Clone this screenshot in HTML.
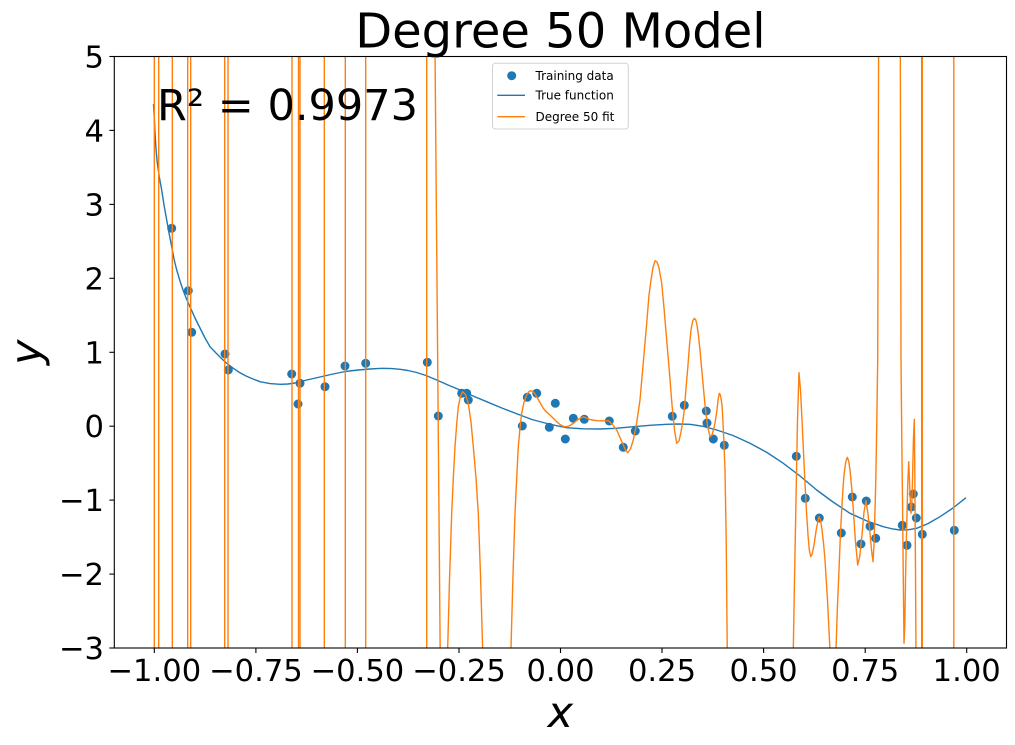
<!DOCTYPE html>
<html>
<head>
<meta charset="utf-8">
<style>
  html,body{margin:0;padding:0;background:#fff;}
  svg{display:block;}
  text{font-family:"DejaVu Sans","Liberation Sans",sans-serif;fill:#000;}
</style>
</head>
<body>
<svg width="1015" height="745" viewBox="0 0 1015 745" xmlns="http://www.w3.org/2000/svg">
  <defs>
    <clipPath id="plot">
      <rect x="114.3" y="56.5" width="892.2" height="591.5"/>
    </clipPath>
  </defs>
  <rect x="0" y="0" width="1015" height="745" fill="#fff"/>

  <text x="560.4" y="47.7" font-size="48" text-anchor="middle">Degree 50 Model</text>

  <g clip-path="url(#plot)">
    <g fill="#1f77b4">
      <circle cx="171.7" cy="228.3" r="4.5"/>
      <circle cx="188.3" cy="290.7" r="4.5"/>
      <circle cx="191.7" cy="332.3" r="4.5"/>
      <circle cx="225" cy="354" r="4.5"/>
      <circle cx="228.3" cy="370" r="4.5"/>
      <circle cx="291.7" cy="374" r="4.5"/>
      <circle cx="300" cy="383.3" r="4.5"/>
      <circle cx="298" cy="404" r="4.5"/>
      <circle cx="325" cy="386.7" r="4.5"/>
      <circle cx="345" cy="366" r="4.5"/>
      <circle cx="365.7" cy="363.3" r="4.5"/>
      <circle cx="427.3" cy="362.3" r="4.5"/>
      <circle cx="438.3" cy="416" r="4.5"/>
      <circle cx="461.7" cy="393.3" r="4.5"/>
      <circle cx="466.7" cy="393.3" r="4.5"/>
      <circle cx="468.3" cy="400" r="4.5"/>
      <circle cx="522.3" cy="426" r="4.5"/>
      <circle cx="527.3" cy="397.3" r="4.5"/>
      <circle cx="536.7" cy="393.3" r="4.5"/>
      <circle cx="549.3" cy="427.3" r="4.5"/>
      <circle cx="555.3" cy="403.3" r="4.5"/>
      <circle cx="565.3" cy="439" r="4.5"/>
      <circle cx="573.3" cy="418.3" r="4.5"/>
      <circle cx="584.3" cy="419.3" r="4.5"/>
      <circle cx="609.3" cy="421" r="4.5"/>
      <circle cx="623.3" cy="447.3" r="4.5"/>
      <circle cx="635.3" cy="431" r="4.5"/>
      <circle cx="672.3" cy="416.3" r="4.5"/>
      <circle cx="684.3" cy="405.3" r="4.5"/>
      <circle cx="706.3" cy="411" r="4.5"/>
      <circle cx="707" cy="423" r="4.5"/>
      <circle cx="713.3" cy="439" r="4.5"/>
      <circle cx="724.3" cy="445.3" r="4.5"/>
      <circle cx="796.3" cy="456.3" r="4.5"/>
      <circle cx="805.3" cy="498.3" r="4.5"/>
      <circle cx="819.3" cy="518" r="4.5"/>
      <circle cx="841.3" cy="533" r="4.5"/>
      <circle cx="852.3" cy="497" r="4.5"/>
      <circle cx="861" cy="544" r="4.5"/>
      <circle cx="866.3" cy="501" r="4.5"/>
      <circle cx="870" cy="526.3" r="4.5"/>
      <circle cx="875.7" cy="538.3" r="4.5"/>
      <circle cx="902.3" cy="525.3" r="4.5"/>
      <circle cx="907" cy="545.3" r="4.5"/>
      <circle cx="911.3" cy="507" r="4.5"/>
      <circle cx="913.3" cy="494" r="4.5"/>
      <circle cx="916.3" cy="518" r="4.5"/>
      <circle cx="922.3" cy="534.3" r="4.5"/>
      <circle cx="954.3" cy="530.3" r="4.5"/>
    </g>

    <polyline fill="none" stroke="#1f77b4" stroke-width="1.4" stroke-linejoin="round"
      points="153.5,104 154.3,118 155,133 156,149 157.3,163 159.3,177 161.7,190 164,205 166.7,220 169,233 171.7,246.7 174,259 176.7,270 180,281 183,290 186.5,299 190,306.7 195,318 200,328 205,338 210,346.7 215.5,352.5 221,358 227,363.5 233.3,368.3 239.5,372.5 246,376 253,379 260,381.7 270,383.6 280,384.3 288,384 295,383 306.7,380 320,377 333,374 345.5,371.5 358,370 370,369 383,368.3 392,368.6 400,369.3 408,370.5 416.7,372.5 426,375.5 436.7,380 448,385 460,390 473,396 486.7,401.7 503,408.5 520,415 532,419.5 545,423 556,425.6 566.7,427.7 583,428.8 600,429 616,428.3 633.3,426.7 650,425.3 666.7,424.3 678,424 690,424.3 703,426.3 716.7,430 733,435.5 750,443.3 767,452.5 783.3,463.3 800,476 816.7,490 833,502 850,513.3 867,521 883.3,526.7 892,528.8 900,530 908,529.8 916.7,528.3 928,523.6 940,516.7 953,508 966,497.7"/>

    <g fill="none" stroke="#ff7f0e" stroke-width="1.4" stroke-linejoin="round">
      <line x1="154.3" y1="50" x2="154.3" y2="655"/>
      <line x1="158.7" y1="50" x2="158.7" y2="655"/>
      <line x1="172.3" y1="50" x2="172.3" y2="655"/>
      <line x1="187.7" y1="50" x2="187.7" y2="655"/>
      <line x1="190.7" y1="50" x2="190.7" y2="655"/>
      <line x1="224.7" y1="50" x2="224.7" y2="655"/>
      <line x1="228" y1="50" x2="228" y2="655"/>
      <line x1="292" y1="50" x2="292" y2="655"/>
      <line x1="298.5" y1="50" x2="298.5" y2="655"/>
      <line x1="300" y1="50" x2="300" y2="655"/>
      <line x1="324.3" y1="50" x2="324.3" y2="655"/>
      <line x1="345.3" y1="50" x2="345.3" y2="655"/>
      <line x1="365.7" y1="50" x2="365.7" y2="655"/>
      <line x1="426.7" y1="50" x2="426.7" y2="655"/>
      <line x1="435" y1="50" x2="440.2" y2="655"/>
      <polyline points="447.5,655 449.5,580 451.7,513.3 453.3,478 455,446.7 456.7,424 458.3,406.7 460.5,396 462.7,391.7 465.5,394.5 468.3,403.3 471,422 473.3,446.7 476,478 478.3,513.3 480.5,575 482.8,655"/>
      <polyline points="510.8,655 513,575 515,513.3 516.7,478 518.3,446.7 520,428 521.7,413.3 524,402 526.7,395 529,391.5 531,390.7 534,392.5 536.7,396.7 540,402.5 543.3,408.3 546.5,412 550,415 553.5,418.5 556.7,421.7 560,424.5 563.5,426.5 566.7,426.7 570,425.5 573.3,423.3 578,419.5 583.3,416.7 590,419.5 596.7,420.7 602,420.8 608.3,420.7 612.5,424.5 616.7,430 620,437.5 623.3,445 625.5,450 627.7,452.7 630.5,449 633.3,440 636.5,424 640,400 643.5,360 646.7,323.3 649,295 651,280 653,267.5 655,260.7 657,262 659,268 661.7,283.3 664,308 666.7,340 669.5,373 672,405 674.5,430 676.7,443.3 679,441 681,432 682.7,422 684.3,410 686.2,386 688,365 689.5,345 691,330 692.7,321 694.3,318.3 695.8,320 697,325 698.5,336 700,350 702.5,378 705,405 707.5,426 710,436.7 712,435 714,428 715.5,420 717,410 718.2,399 719.3,393.3 720.2,394.5 721,398 722,405 722.7,416.7 723.8,440 725,470 726.2,540 727.3,655"/>
      <polyline points="793.2,655 794.5,580 796,500 797.5,420 799,372.7 800.5,390 802,420 803.5,452 805,483.3 806.5,512 808,535 809.3,550 810.7,556.7 812.2,554 814,545 816.5,528 819,516.7 820.5,520 822,530 823.5,543 825,560 827.5,600 830.2,655"/>
      <polyline points="835.8,655 837.5,605 839,570 840.3,537 841.7,510 843,488 844,475 845.7,462 847.3,457.3 848.7,461 850,470 851.7,488 853.3,510 855.5,542 857.7,565 859.8,556 862,535 864,512 866,500.7 868,514 870,533 871.5,550 873,561.7 874,544 875,510 875.8,480 876.5,440 877.2,395 877.7,360 878.2,200 878.6,50"/>
      <polyline points="900.3,50 900.7,200 901,360 901.8,440 902.5,500 903.3,580 904,643.3 904.8,625 905.5,580 906.1,550 906.7,526.7 907.7,485 908.7,461.7 909.4,478 910,495 911,513.3 911.8,505 912.5,480 913.4,440 914.3,419.3 914.7,460 915,500 915.5,570 916,655"/>
      <line x1="921.7" y1="50" x2="921.7" y2="655"/>
      <line x1="922.3" y1="50" x2="922.3" y2="655"/>
      <line x1="953.8" y1="50" x2="953.8" y2="655"/>
    </g>
  </g>

  <rect x="114.3" y="56.5" width="892.2" height="591.5" fill="none" stroke="#000" stroke-width="1.1"/>

  <g stroke="#000" stroke-width="1.1">
    <line x1="154.3" y1="648" x2="154.3" y2="653"/>
    <line x1="255.9" y1="648" x2="255.9" y2="653"/>
    <line x1="357.4" y1="648" x2="357.4" y2="653"/>
    <line x1="459" y1="648" x2="459" y2="653"/>
    <line x1="560.5" y1="648" x2="560.5" y2="653"/>
    <line x1="662" y1="648" x2="662" y2="653"/>
    <line x1="763.6" y1="648" x2="763.6" y2="653"/>
    <line x1="865.2" y1="648" x2="865.2" y2="653"/>
    <line x1="966.7" y1="648" x2="966.7" y2="653"/>
  </g>
  <g font-size="30.6" text-anchor="middle">
    <text x="154.3" y="681">−1.00</text>
    <text x="255.9" y="681">−0.75</text>
    <text x="357.4" y="681">−0.50</text>
    <text x="459" y="681">−0.25</text>
    <text x="560.5" y="681">0.00</text>
    <text x="662" y="681">0.25</text>
    <text x="763.6" y="681">0.50</text>
    <text x="865.2" y="681">0.75</text>
    <text x="966.7" y="681">1.00</text>
  </g>

  <g stroke="#000" stroke-width="1.1">
    <line x1="109.4" y1="56.5" x2="114.3" y2="56.5"/>
    <line x1="109.4" y1="130.4" x2="114.3" y2="130.4"/>
    <line x1="109.4" y1="204.4" x2="114.3" y2="204.4"/>
    <line x1="109.4" y1="278.3" x2="114.3" y2="278.3"/>
    <line x1="109.4" y1="352.3" x2="114.3" y2="352.3"/>
    <line x1="109.4" y1="426.2" x2="114.3" y2="426.2"/>
    <line x1="109.4" y1="500.1" x2="114.3" y2="500.1"/>
    <line x1="109.4" y1="574.1" x2="114.3" y2="574.1"/>
    <line x1="109.4" y1="648" x2="114.3" y2="648"/>
  </g>
  <g font-size="30.6" text-anchor="end">
    <text x="104" y="67.5">5</text>
    <text x="104" y="141.4">4</text>
    <text x="104" y="215.4">3</text>
    <text x="104" y="289.3">2</text>
    <text x="104" y="363.3">1</text>
    <text x="104" y="437.2">0</text>
    <text x="104" y="511.1">−1</text>
    <text x="104" y="585.1">−2</text>
    <text x="104" y="659">−3</text>
  </g>

  <text x="560.4" y="727" font-size="43" font-style="italic" text-anchor="middle">x</text>
  <text transform="translate(40.5,352.3) rotate(-90)" x="0" y="0" font-size="43" font-style="italic" text-anchor="middle">y</text>

  <text x="157" y="120" font-size="43">R² = 0.9973</text>

  <rect x="492.5" y="63.2" width="135.8" height="65.8" rx="3" ry="3" fill="#fff" fill-opacity="0.8" stroke="#d3d3d3" stroke-width="1"/>
  <circle cx="511.7" cy="75.7" r="4.5" fill="#1f77b4"/>
  <line x1="497.3" y1="95.3" x2="525" y2="95.3" stroke="#1f77b4" stroke-width="1.4"/>
  <line x1="497.3" y1="116.7" x2="525" y2="116.7" stroke="#ff7f0e" stroke-width="1.4"/>
  <g font-size="12">
    <text x="535.5" y="80">Training data</text>
    <text x="535.5" y="99.7">True function</text>
    <text x="535.5" y="121">Degree 50 fit</text>
  </g>
</svg>
</body>
</html>
